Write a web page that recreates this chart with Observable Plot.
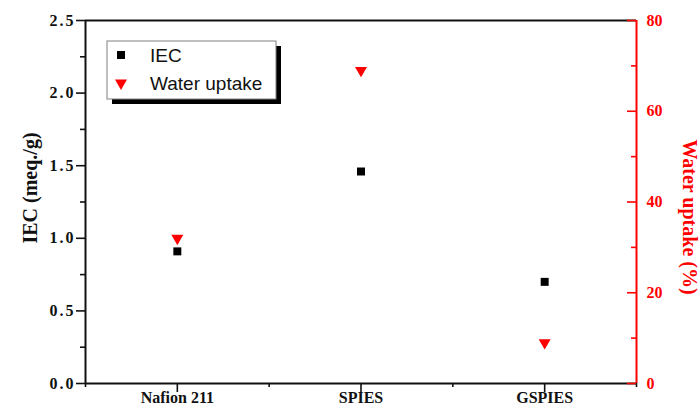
<!DOCTYPE html>
<html>
<head>
<meta charset="utf-8">
<script src="https://cdn.jsdelivr.net/npm/d3@7"></script>
<script src="https://cdn.jsdelivr.net/npm/@observablehq/plot@0.6"></script>
<style>
  html, body { margin: 0; padding: 0; background: #fff; }
  #chart svg { display: block; }
</style>
</head>
<body>
<div id="chart"></div>
<script>
// Membrane samples and their measured properties
const categories = ["Nafion 211", "SPIES", "GSPIES"];
const iec = [0.91, 1.46, 0.70];          // meq./g
const waterUptake = [32, 69, 9];         // %

// Axis ticks
const iecTicks = [0, 0.5, 1.0, 1.5, 2.0, 2.5];
const iecMinorTicks = [0.25, 0.75, 1.25, 1.75, 2.25];
const waterTicks = [0, 20, 40, 60, 80];
const waterMinorTicks = [10, 30, 50, 70];

const iecMax = 2.5;
const waterMax = 80;
const k = iecMax / waterMax; // water uptake -> IEC axis units

const rows = categories.map((name, i) => ({i, name, iec: iec[i], water: waterUptake[i]}));

const xMin = -0.5;
const xMax = categories.length - 0.5;
const catIndex = d3.range(categories.length);
const boundaries = d3.range(categories.length + 1).map(j => j - 0.5);

const serif = "'Liberation Serif', 'Times New Roman', serif";
const sans = "'Liberation Sans', Arial, sans-serif";
const INK = "#111";
const RED = "#ff0000";
const SQUARE_R = 4.5;
const TRI_R = 4.45;
const TICK_W = 1.6;

const chart = Plot.plot({
  width: 700,
  height: 407,
  marginLeft: 85,
  marginRight: 64,
  marginTop: 20,
  marginBottom: 24,
  style: {background: "white", overflow: "visible"},
  x: {type: "linear", domain: [xMin, xMax]},
  y: {domain: [0, iecMax]},
  marks: [
    // bottom axis: ticks point down
    Plot.ruleX(catIndex, {y1: 0, y2: 0, insetBottom: -9, stroke: INK, strokeWidth: TICK_W}),
    Plot.ruleX(boundaries, {y1: 0, y2: 0, insetBottom: -4, stroke: INK, strokeWidth: TICK_W}),
    Plot.axisX(catIndex, {
      anchor: "bottom", tickSize: 0, tickPadding: 8.6,
      tickFormat: i => categories[i], label: null,
      fontSize: 16, fontWeight: "bold", fontFamily: serif, fill: INK
    }),
    // left axis (IEC): ticks point outward
    Plot.ruleY(iecTicks, {x1: xMin, x2: xMin, insetLeft: -9, stroke: INK, strokeWidth: TICK_W}),
    Plot.ruleY(iecMinorTicks, {x1: xMin, x2: xMin, insetLeft: -5, stroke: INK, strokeWidth: TICK_W}),
    Plot.axisY(iecTicks, {
      anchor: "left", tickSize: 0, tickPadding: 10,
      tickFormat: d3.format(".1f"), label: null,
      fontSize: 16, fontWeight: "bold", fontFamily: serif, fill: INK
    }),
    // frame edges
    Plot.ruleY([iecMax], {stroke: INK, strokeWidth: 2}),
    Plot.ruleY([0], {stroke: INK, strokeWidth: 2}),
    Plot.ruleX([xMin], {stroke: INK, strokeWidth: 2}),
    // right axis (water uptake): ticks point inward
    Plot.ruleX([xMax], {stroke: RED, strokeWidth: 2}),
    Plot.ruleY(waterTicks.map(v => v * k), {x1: xMax, x2: xMax, insetRight: 9, stroke: RED, strokeWidth: TICK_W}),
    Plot.ruleY(waterMinorTicks.map(v => v * k), {x1: xMax, x2: xMax, insetRight: 5, stroke: RED, strokeWidth: TICK_W}),
    Plot.axisY(waterTicks.map(v => v * k), {
      anchor: "right", tickSize: 0, tickPadding: 10,
      tickFormat: d => String(Math.round(d / k)), label: null,
      fontSize: 16, fontWeight: "bold", fontFamily: serif, fill: RED
    }),
    // axis titles
    Plot.text(["IEC (meq./g)"], {
      frameAnchor: "left", textAnchor: "middle", rotate: -90, dx: -55, dy: -14,
      fontSize: 20, fontWeight: "bold", fontFamily: serif, fill: INK
    }),
    Plot.text(["Water uptake (%)"], {
      frameAnchor: "right", textAnchor: "middle", rotate: 90, dx: 53, dy: 15,
      fontSize: 20, fontWeight: "bold", fontFamily: serif, fill: RED
    }),
    // data
    Plot.dot(rows, {x: "i", y: "iec", symbol: "square", r: SQUARE_R, fill: "black", stroke: null}),
    Plot.dot(rows, {x: "i", y: d => d.water * k, symbol: "triangle", rotate: 180, r: TRI_R, fill: RED, stroke: null})
  ]
});

// Slightly wider digit spacing on the IEC tick labels (first y-axis label group)
d3.select(chart).select('g[aria-label="y-axis tick label"]').style("letter-spacing", "2px");

// Legend box in the upper-left corner of the frame
(function addLegend(svg) {
  const left = 85 + 22, top = 20 + 21, w = 169, h = 58;
  const g = d3.select(svg).append("g").attr("class", "legend");
  g.append("rect").attr("x", left + 5).attr("y", top + 5).attr("width", w).attr("height", h).attr("fill", "black");
  g.append("rect").attr("x", left).attr("y", top).attr("width", w).attr("height", h)
    .attr("fill", "white").attr("stroke", "#808080").attr("stroke-width", 1);
  const items = [
    {label: "IEC", type: d3.symbolSquare, r: SQUARE_R, fill: "black", rot: 0},
    {label: "Water uptake", type: d3.symbolTriangle, r: TRI_R, fill: RED, rot: 180}
  ];
  items.forEach((it, j) => {
    const cy = top + 14 + j * 28;
    g.append("path")
      .attr("d", d3.symbol(it.type, Math.PI * it.r * it.r)())
      .attr("transform", `translate(${left + 14},${cy}) rotate(${it.rot})`)
      .attr("fill", it.fill);
    g.append("text")
      .attr("x", left + 43).attr("y", cy).attr("dy", "0.35em")
      .attr("text-anchor", "start")
      .attr("font-family", sans).attr("font-size", 19).attr("fill", INK)
      .text(it.label);
  });
})(chart);

document.getElementById("chart").appendChild(chart);
</script>
</body>
</html>
